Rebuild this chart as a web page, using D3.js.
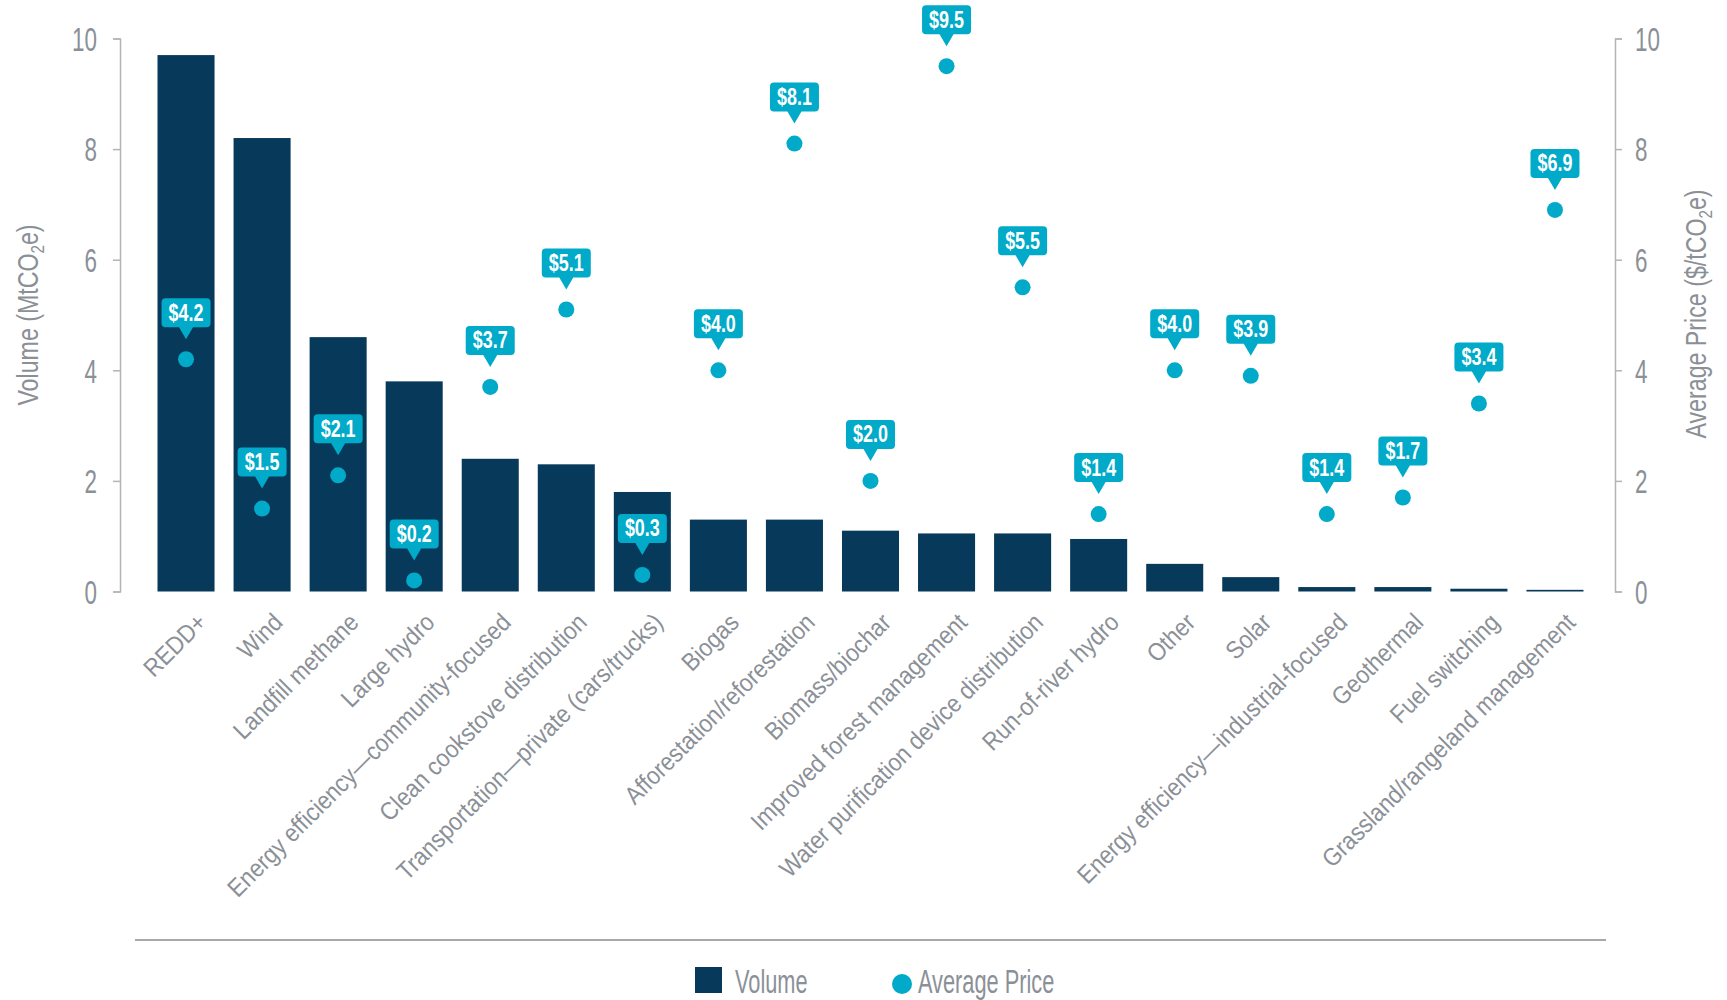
<!DOCTYPE html>
<html>
<head>
<meta charset="utf-8">
<script src="https://cdn.jsdelivr.net/npm/d3@7"></script>
<style>
  body { margin: 0; background: #fff; }
  svg text { font-family: "Liberation Sans", Arial, sans-serif; }
</style>
</head>
<body>
<svg id="chart" width="1727" height="1000"></svg>
<script>
// categories, volume (MtCO2e) and average price ($/tCO2e)
var categories = ["REDD+", "Wind", "Landfill methane", "Large hydro",
  "Energy efficiency\u2014community-focused", "Clean cookstove distribution",
  "Transportation\u2014private (cars/trucks)", "Biogas", "Afforestation/reforestation",
  "Biomass/biochar", "Improved forest management", "Water purification device distribution",
  "Run-of-river hydro", "Other", "Solar", "Energy efficiency\u2014industrial-focused",
  "Geothermal", "Fuel switching", "Grassland/rangeland management"];
var volumes = [9.7, 8.2, 4.6, 3.8, 2.4, 2.3, 1.8, 1.3, 1.3, 1.1, 1.05, 1.05, 0.95, 0.5, 0.26, 0.08, 0.08, 0.05, 0.03];
var prices = [4.2, 1.5, 2.1, 0.2, 3.7, 5.1, 0.3, 4.0, 8.1, 2.0, 9.5, 5.5, 1.4, 4.0, 3.9, 1.4, 1.7, 3.4, 6.9];
var yTicks = [0, 2, 4, 6, 8, 10];

var barColor = "#073a5a",
    dotColor = "#00aac8",
    textColor = "#8b9097",
    axisColor = "#b4b4b4";

// the source uses a tall condensed face, so text is squeezed horizontally
var tickSx = 0.68, titleSx = 0.8, labelSx = 0.9, calloutSx = 0.78, legendSx = 0.66;

var svg = d3.select("#chart");

var x = d3.scaleBand()
  .domain(categories)
  .range([148, 1593])
  .paddingInner(0.25)
  .paddingOuter(0.125);

var yVol = d3.scaleLinear().domain([0, 10]).range([591.5, 38.5]);
var yPrice = d3.scaleLinear().domain([0, 10]).range([591.5, 38.5]);

// left axis
var leftAxis = svg.append("g")
  .attr("transform", "translate(120,0)")
  .call(d3.axisLeft(yVol).tickValues(yTicks).tickSize(7).tickFormat(d3.format("d")));
leftAxis.select(".domain").attr("stroke", axisColor).attr("stroke-width", 1.5);
leftAxis.selectAll(".tick line").attr("stroke", axisColor).attr("stroke-width", 1.5);
leftAxis.selectAll(".tick text")
  .attr("fill", textColor)
  .style("font-size", "33px")
  .attr("x", -23 / tickSx)
  .attr("dy", "0.36em")
  .attr("transform", "scale(" + tickSx + ",1)");

// right axis
var rightAxis = svg.append("g")
  .attr("transform", "translate(1615,0)")
  .call(d3.axisRight(yPrice).tickValues(yTicks).tickSize(7).tickFormat(d3.format("d")));
rightAxis.select(".domain").attr("stroke", axisColor).attr("stroke-width", 1.5);
rightAxis.selectAll(".tick line").attr("stroke", axisColor).attr("stroke-width", 1.5);
rightAxis.selectAll(".tick text")
  .attr("fill", textColor)
  .style("font-size", "33px")
  .attr("x", 20 / tickSx)
  .attr("dy", "0.36em")
  .attr("transform", "scale(" + tickSx + ",1)");

// axis titles
function axisTitle(cx, cy, main, tail) {
  var t = svg.append("text")
    .attr("transform", "translate(" + cx + "," + cy + ") rotate(-90) scale(" + titleSx + ",1)")
    .attr("text-anchor", "middle")
    .attr("fill", textColor)
    .style("font-size", "29px");
  t.append("tspan").text(main);
  t.append("tspan").attr("dy", 6).style("font-size", "19px").text("2");
  t.append("tspan").attr("dy", -6).text(tail);
}
axisTitle(38, 315, "Volume (MtCO", "e)");
axisTitle(1706, 314, "Average Price ($/tCO", "e)");

// bars
svg.append("g")
  .selectAll("rect")
  .data(categories)
  .enter().append("rect")
  .attr("x", function(d) { return x(d); })
  .attr("width", x.bandwidth())
  .attr("y", function(d, i) { return yVol(volumes[i]); })
  .attr("height", function(d, i) { return yVol(0) - yVol(volumes[i]); })
  .attr("fill", barColor);

// category labels
svg.append("g")
  .selectAll("text")
  .data(categories)
  .enter().append("text")
  .attr("transform", function(d) {
    return "translate(" + (x(d) + x.bandwidth() / 2 + 22) + ",624) rotate(-45) scale(" + labelSx + ",1)";
  })
  .attr("text-anchor", "end")
  .attr("fill", textColor)
  .style("font-size", "25px")
  .text(function(d) { return d; });

// price dots + callouts
var pts = svg.append("g")
  .selectAll("g")
  .data(categories)
  .enter().append("g")
  .attr("transform", function(d, i) {
    return "translate(" + (x(d) + x.bandwidth() / 2) + "," + yPrice(prices[i]) + ")";
  });

pts.append("circle")
  .attr("r", 8)
  .attr("fill", dotColor);

pts.append("path")
  .attr("d", "M-24.5,-57 a4,4 0 0 1 4,-4 h41 a4,4 0 0 1 4,4 v21 a4,4 0 0 1 -4,4 h-13.5 l-7,12 l-7,-12 h-13.5 a4,4 0 0 1 -4,-4 z")
  .attr("fill", dotColor);

pts.append("text")
  .attr("transform", "translate(0,-38.5) scale(" + calloutSx + ",1)")
  .attr("text-anchor", "middle")
  .attr("fill", "#fff")
  .style("font-size", "23px")
  .style("font-weight", "bold")
  .text(function(d, i) { return "$" + d3.format(".1f")(prices[i]); });

// separator line
svg.append("line")
  .attr("x1", 135).attr("x2", 1606)
  .attr("y1", 940).attr("y2", 940)
  .attr("stroke", "#a8a8a8")
  .attr("stroke-width", 2);

// legend
var legend = svg.append("g");
legend.append("rect")
  .attr("x", 695).attr("y", 967)
  .attr("width", 27).attr("height", 26)
  .attr("fill", barColor);
legend.append("text")
  .attr("transform", "translate(735,993) scale(" + legendSx + ",1)")
  .attr("fill", textColor)
  .style("font-size", "33px")
  .text("Volume");
legend.append("circle")
  .attr("cx", 902).attr("cy", 984)
  .attr("r", 10)
  .attr("fill", dotColor);
legend.append("text")
  .attr("transform", "translate(918,993) scale(" + legendSx + ",1)")
  .attr("fill", textColor)
  .style("font-size", "33px")
  .text("Average Price");
</script>
</body>
</html>
